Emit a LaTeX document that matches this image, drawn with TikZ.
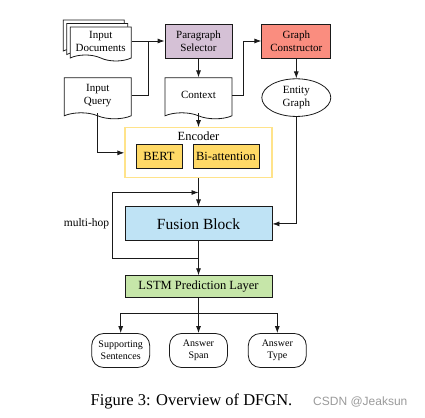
\documentclass[tikz,border=0pt]{standalone}
\usepackage{fontspec}
\setmainfont{Liberation Serif}
\newfontfamily\wmfont{Liberation Sans}
\usetikzlibrary{arrows.meta, positioning, shapes.geometric, shapes.symbols, shadows, calc}
\definecolor{DFink}{HTML}{1A1A1A}
\definecolor{DFpurple}{HTML}{D5C1D6}
\definecolor{DFsalmon}{HTML}{FA8D7F}
\definecolor{DFyellow}{HTML}{FFE38A}
\definecolor{DFgold}{HTML}{FFD966}
\definecolor{DFblue}{HTML}{BFE3F5}
\definecolor{DFgreen}{HTML}{C6E6A9}
\definecolor{DFmark}{HTML}{9A9A9A}
\tikzset{
  dfbox/.style={
    rectangle, draw=DFink, line width=0.8pt, fill=white, text=black,
    align=center, inner sep=2pt, minimum width=67pt, minimum height=34pt,
    font=\fontsize{11}{13}\selectfont},
  dfsel/.style={dfbox, fill=DFpurple},
  dfcon/.style={dfbox, fill=DFsalmon, minimum width=69pt},
  dfdoc/.style={dfbox, tape, tape bend top=none, tape bend bottom=out and in,
    tape bend height=6pt, minimum height=41pt},
  dfgraph/.style={dfbox, ellipse, minimum width=69pt, minimum height=37pt},
  dfenc/.style={rectangle, draw=DFyellow, line width=1.3pt, fill=white,
    minimum width=147pt, minimum height=50pt},
  dfsub/.style={dfbox, fill=DFgold, minimum height=24pt,
    font=\fontsize{12.5}{14}\selectfont},
  dffuse/.style={dfbox, fill=DFblue, minimum width=147pt, minimum height=34pt,
    font=\fontsize{15.5}{17}\selectfont},
  dflstm/.style={dfbox, fill=DFgreen, minimum width=147pt, minimum height=22pt,
    font=\fontsize{12.5}{14}\selectfont},
  dfout/.style={dfbox, rounded corners=12pt, minimum width=58pt,
    font=\fontsize{10}{12}\selectfont},
  dfarr/.style={-{Latex[length=7pt,width=5pt]}, line width=0.8pt, draw=DFink},
  dfline/.style={line width=0.8pt, draw=DFink},
  dflbl/.style={font=\fontsize{11.5}{13}\selectfont, text=black, inner sep=3pt},
}
\begin{document}
\begin{tikzpicture}[x=1pt, y=1pt, node distance=20pt]
  \useasboundingbox (0,0) rectangle (425,417);
  %% Top row
  \node[dfsel] (sel) at (198.5,376) {Paragraph\\Selector};
  \node[dfcon, right=29pt of sel] (gcon) {Graph\\Constructor};
  \node[dfdoc, minimum width=61pt, minimum height=34pt, left=33pt of sel,
        copy shadow={shadow xshift=-7pt, shadow yshift=7pt, fill=white, draw=DFink, line width=0.8pt},
        copy shadow={shadow xshift=-3.5pt, shadow yshift=3.5pt, fill=white, draw=DFink, line width=0.8pt}]
        (docs) {Input\\Documents};
  %% Second row
  \node[dfdoc, below=19pt of sel] (ctx) {Context};
  \node[dfdoc, left=33pt of ctx] (query) {Input\\Query};
  \node[dfgraph, below=20pt of gcon] (egraph) {Entity\\Graph};
  %% Encoder
  \node[dfenc, below=14pt of ctx] (enc) {};
  \node[dflbl, anchor=north, font=\fontsize{12.5}{14}\selectfont] (enclbl)
        at ([yshift=-1pt]enc.north) {Encoder};
  \node[dfsub, minimum width=46pt] (bert) at ([xshift=-39.5pt,yshift=-4pt]enc.center) {BERT};
  \node[dfsub, minimum width=66pt] (biatt) at ([xshift=27.5pt,yshift=-4pt]enc.center) {Bi-attention};
  %% Fusion and prediction
  \node[dffuse, below=28pt of enc] (fusion) {Fusion Block};
  \node[dflstm, below=34pt of fusion] (lstm) {LSTM Prediction Layer};
  %% Outputs
  \node[dfout, below=35pt of lstm] (span) {Answer\\Span};
  \node[dfout, left=19pt of span] (supp) {Supporting\\Sentences};
  \node[dfout, right=20pt of span] (atype) {Answer\\Type};
  %% Caption
  \node[anchor=base, font=\fontsize{16.5}{18}\selectfont] (cap) at (191.5,11)
        {Figure 3: Overview of DFGN.};
  \node[anchor=base west, font=\wmfont\fontsize{12}{14}\selectfont, text=DFmark, inner sep=0pt]
        (mark) at (313,12) {CSDN @Jeaksun};
  %% Arrows
  \coordinate (jn) at ($(docs.east)!0.5!(sel.west)$);
  \draw[dfarr] (docs.east) -- (sel.west);
  \draw[dfline] (query.east) -| (jn);
  \draw[dfarr] (sel) -- (ctx);
  \draw[dfarr] (ctx.east) -- ++(11,0) |- (gcon.west);
  \draw[dfarr] (gcon) -- (egraph);
  \draw[dfarr] (query.south) |- (enc.west);
  \draw[dfarr] (ctx.south) -- (enc.north);
  \draw[dfarr] (enc) -- (fusion);
  \draw[dfarr] (egraph.south) |- (fusion.east);
  \draw[dfarr] (fusion) -- (lstm);
  %% multi-hop loop
  \coordinate (hopout) at ($(fusion.south)!0.5!(lstm.north)$);
  \coordinate (hopin) at ($(enc.south)!0.5!(fusion.north)$);
  \coordinate (hopx) at ($(fusion.west)+(-12,0)$);
  \draw[dfarr] (hopout) -| (hopx) node[dflbl, left] {multi-hop} |- (hopin);
  %% Branches to outputs
  \coordinate (br) at ($(lstm.south)+(0,-15)$);
  \draw[dfline] (lstm.south) -- (br);
  \draw[dfarr] (br) -| (supp.north);
  \draw[dfarr] (br) -- (span.north);
  \draw[dfarr] (br) -| (atype.north);
\end{tikzpicture}
\end{document}
